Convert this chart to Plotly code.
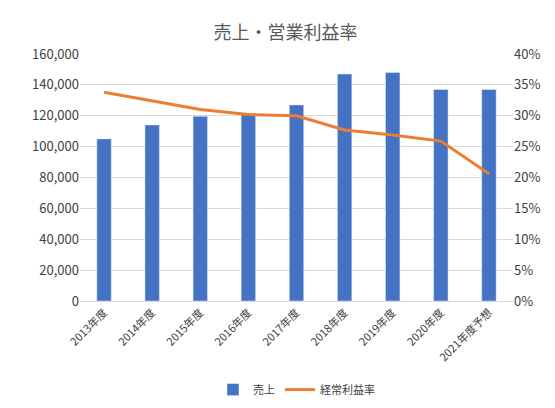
import plotly.graph_objects as go

categories = ["2013年度","2014年度","2015年度","2016年度","2017年度","2018年度","2019年度","2020年度","2021年度予想"]
sales = [105000,114000,119600,121500,127000,147000,148000,137000,137000]
margin = [0.338,0.324,0.310,0.302,0.300,0.277,0.269,0.259,0.206]

fig = go.Figure()
fig.add_trace(go.Bar(x=categories, y=sales, name="売上", marker_color="#4472C4", width=0.3))
fig.add_trace(go.Scatter(x=categories, y=margin, name="経常利益率", yaxis="y2", mode="lines",
                         line=dict(color="#ED7D31", width=3)))
fig.update_layout(
    width=555, height=408, paper_bgcolor="white", plot_bgcolor="white",
    font=dict(family="Noto Sans CJK JP", color="#404040", size=13),
    title=dict(text="売上・営業利益率", x=0.5, y=0.955, font=dict(size=18, color="#595959")),
    margin=dict(l=72, r=50, t=46, b=100),
    yaxis=dict(range=[0,160000], dtick=20000, tickformat=",", gridcolor="#D9D9D9", zeroline=False),
    yaxis2=dict(range=[0,0.4], dtick=0.05, tickformat=".0%", overlaying="y", side="right", showgrid=False),
    xaxis=dict(tickangle=-45, tickfont=dict(size=11), showline=True, linecolor="#D9D9D9"),
    legend=dict(orientation="h", x=0.5, xanchor="center", y=-0.3, font=dict(size=11)),
    bargap=0.5,
)
fig.write_html("out.html")
